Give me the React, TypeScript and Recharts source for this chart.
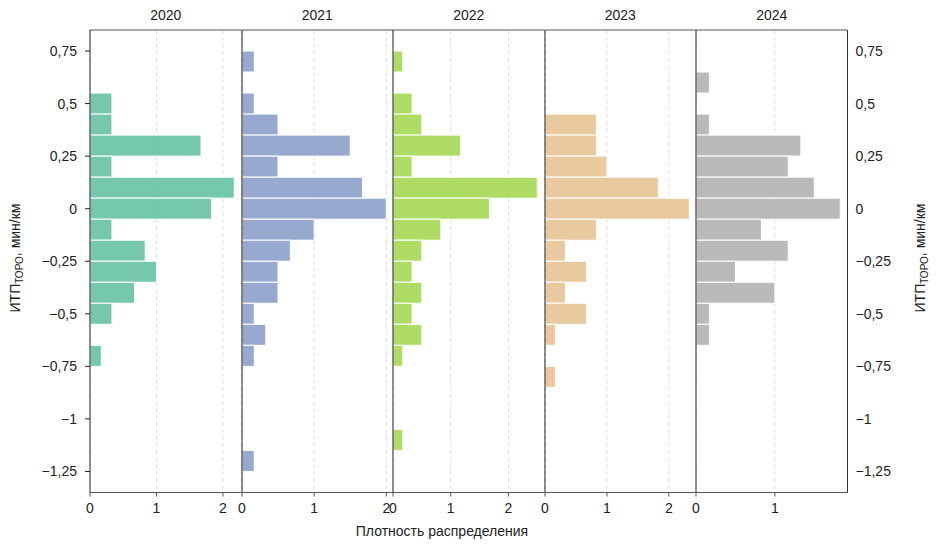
import { BarChart, Bar, XAxis, YAxis, CartesianGrid, ReferenceLine } from 'recharts';

// bin centres, ИТП ТОРО (мин/км), bin width 0.1
const bins = [0.7, 0.6, 0.5, 0.4, 0.3, 0.2, 0.1, 0, -0.1, -0.2, -0.3, -0.4, -0.5, -0.6, -0.7, -0.8, -0.9, -1.0, -1.1, -1.2];

// density per bin
const d2020 = [0, 0, 0.33, 0.33, 1.67, 0.33, 2.17, 1.83, 0.33, 0.83, 1.0, 0.67, 0.33, 0, 0.17, 0, 0, 0, 0, 0];
const d2021 = [0.17, 0, 0.17, 0.5, 1.5, 0.5, 1.67, 2.0, 1.0, 0.67, 0.5, 0.5, 0.17, 0.33, 0.17, 0, 0, 0, 0, 0.17];
const d2022 = [0.17, 0, 0.33, 0.5, 1.17, 0.33, 2.5, 1.67, 0.83, 0.5, 0.33, 0.5, 0.33, 0.5, 0.17, 0, 0, 0, 0.17, 0];
const d2023 = [0, 0, 0, 0.83, 0.83, 1.0, 1.83, 2.33, 0.83, 0.33, 0.67, 0.33, 0.67, 0.17, 0, 0.17, 0, 0, 0, 0];
const d2024 = [0, 0.17, 0, 0.17, 1.33, 1.17, 1.5, 1.83, 0.83, 1.17, 0.5, 1.0, 0.17, 0.17, 0, 0, 0, 0, 0, 0];

const years = ['2020', '2021', '2022', '2023', '2024'];
const series = [d2020, d2021, d2022, d2023, d2024];
const colors = ['#66c2a5', '#8da0cb', '#a6d854', '#e5c494', '#b3b3b3'];

const yTicks = [0.75, 0.5, 0.25, 0, -0.25, -0.5, -0.75, -1, -1.25];
const xTicks = [[0, 1, 2], [0, 1, 2], [0, 1, 2], [0, 1, 2], [0, 1]];
const yDomain: [number, number] = [-1.35, 0.85];

const W = 937;
const H = 551;
const PLOT_LEFT = 90;
const PANEL_W = 151.5;
const PLOT_TOP = 30;
const PLOT_BOTTOM = 492.5;
const XAXIS_H = 30;
const FONT = '"Liberation Sans", Arial, sans-serif';
const FS = 14;

const fmt = (v: number) => String(v).replace('.', ',').replace('-', '\u2212');
const tickStyle = { fill: '#222', fontSize: FS };

function Panel({ idx }: { idx: number }) {
  const first = idx === 0;
  const last = idx === series.length - 1;
  const leftW = first ? PLOT_LEFT : 6;
  const rightW = last ? W - (PLOT_LEFT + PANEL_W * series.length) : 0;
  const data = bins.map((b, i) => ({ bin: b, density: series[idx][i] }));
  const xMax = Math.max(...series[idx]) * 1.05;
  return (
    <div style={{ position: 'absolute', top: 0, left: PLOT_LEFT + idx * PANEL_W - leftW }}>
      <BarChart
        width={leftW + PANEL_W + rightW}
        height={H}
        data={data}
        layout="vertical"
        margin={{ top: PLOT_TOP, right: 0, bottom: H - PLOT_BOTTOM - XAXIS_H, left: 0 }}
        barCategoryGap={0}
        barGap={0}
      >
        <CartesianGrid yAxisId="l" horizontal={false} stroke="#dedede" strokeDasharray="4 3" />
        <XAxis
          type="number"
          domain={[0, xMax]}
          allowDataOverflow
          ticks={xTicks[idx]}
          interval={0}
          height={XAXIS_H}
          tickSize={4}
          tickMargin={7}
          stroke="#555"
          tick={tickStyle}
        />
        <YAxis
          yAxisId="l"
          type="number"
          dataKey="bin"
          domain={yDomain}
          reversed
          allowDataOverflow
          ticks={yTicks}
          interval={0}
          width={leftW}
          tick={first ? tickStyle : false}
          tickSize={5}
          tickMargin={8}
          tickFormatter={fmt}
          stroke="#222"
        />
        {last && (
          <YAxis
            yAxisId="r"
            orientation="right"
            type="number"
            dataKey="bin"
            domain={yDomain}
            reversed
            allowDataOverflow
            ticks={yTicks}
            interval={0}
            width={rightW}
            tickLine={false}
            tickSize={0}
            tickMargin={8}
            tickFormatter={fmt}
            stroke="#333"
            tick={{ ...tickStyle, textAnchor: 'start' }}
          />
        )}
        <ReferenceLine yAxisId="l" y={yDomain[1]} stroke="#555" />
        <Bar
          yAxisId="l"
          dataKey="density"
          fill={colors[idx]}
          fillOpacity={0.9}
          stroke="#fff"
          strokeWidth={1}
          isAnimationActive={false}
        />
      </BarChart>
    </div>
  );
}

function AxisTitle({ x, y }: { x: number; y: number }) {
  return (
    <text transform={`translate(${x},${y}) rotate(-90)`} textAnchor="middle" y={5} fontSize={FS} fill="#222">
      ИТП
      <tspan fontSize={10} dy={2.5}>ТОРО</tspan>
      <tspan dy={-2.5}>, мин/км</tspan>
    </text>
  );
}

export default function App() {
  return (
    <div style={{ position: 'absolute', left: 0, top: 0, width: W, height: H, background: '#fff', fontFamily: FONT }}>
      {years.map((_, i) => (
        <Panel key={i} idx={i} />
      ))}
      <svg width={W} height={H} style={{ position: 'absolute', left: 0, top: 0, pointerEvents: 'none' }} fontFamily={FONT}>
        {years.map((y, i) => (
          <text key={y} x={PLOT_LEFT + PANEL_W * i + PANEL_W / 2} y={19.5} textAnchor="middle" fontSize={FS} fill="#222">
            {y}
          </text>
        ))}
        <text x={442} y={536} textAnchor="middle" fontSize={FS} fill="#222">
          Плотность распределения
        </text>
        <AxisTitle x={15} y={258} />
        <AxisTitle x={920} y={258} />
      </svg>
    </div>
  );
}
